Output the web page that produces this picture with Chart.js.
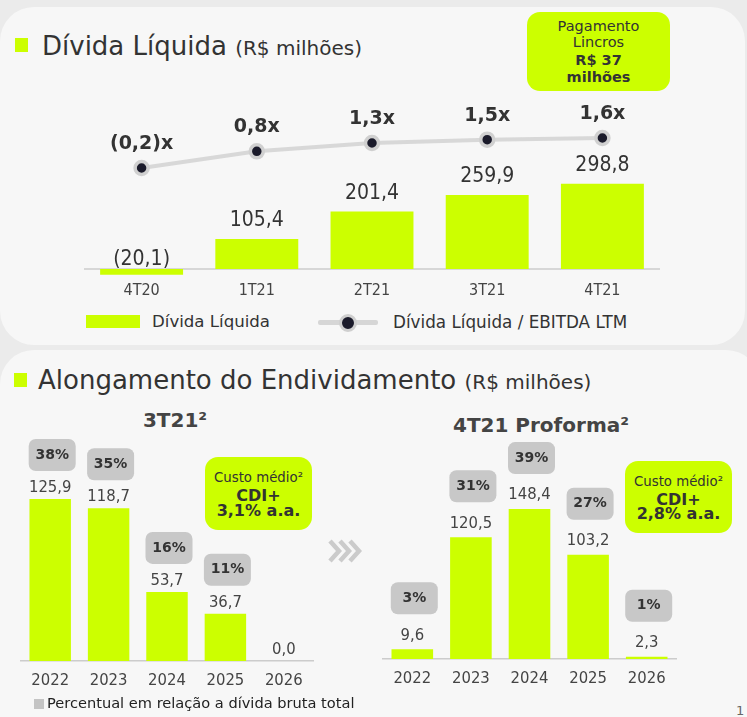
<!DOCTYPE html>
<html>
<head>
<meta charset="utf-8">
<script src="https://cdn.jsdelivr.net/npm/chart.js@4.4.0/dist/chart.umd.min.js"></script>
<style>
  body { margin: 0; width: 747px; height: 717px; background: #ebebeb; overflow: hidden;
         font-family: 'DejaVu Sans', Verdana, sans-serif; color: #333; position: relative; }
  .panel { position: absolute; background: #f7f7f7; border-radius: 34px; }
  .abs { position: absolute; white-space: nowrap; }
  .title { font-size: 26px; line-height: 32px; color: #333; }
  .title span { font-size: 20px; }
  .sq { position: absolute; width: 13px; height: 14px; background: #ccff00; }
  .callout { position: absolute; background: #ccff00; border-radius: 13px; color: #333; text-align: center; }
  .callout div { position: absolute; left: 0; right: 0; }
  .sub { font-size: 20px; font-weight: bold; color: #444; transform: translateX(-50%); }
  canvas { position: absolute; }
</style>
</head>
<body>
<div class="panel" style="left:0; top:7px; width:745px; height:338px;"></div>
<div class="panel" style="left:0; top:350px; width:760px; height:400px;"></div>

<div class="sq" style="left:15px; top:38px;"></div>
<div class="abs title" style="left:42px; top:30px;">Dívida Líquida <span>(R$ milhões)</span></div>

<div class="callout" style="left:527px; top:12px; width:143px; height:79px; font-size:14.5px; line-height:17px;">
  <div style="top:6px;">Pagamento</div>
  <div style="top:22px;">Lincros</div>
  <div style="top:40px; font-weight:bold;">R$ 37</div>
  <div style="top:57px; font-weight:bold;">milhões</div>
</div>

<!-- legenda superior -->
<div class="abs" style="left:86px; top:315px; width:54px; height:13px; background:#ccff00;"></div>
<div class="abs" style="left:152px; top:312px; font-size:16.6px; line-height:20px; color:#333;">Dívida Líquida</div>
<div class="abs" style="left:318px; top:320px; width:60px; height:5px; background:#d6d6d6; border-radius:2px;"></div>
<div class="abs" style="left:339px; top:314px; width:12px; height:12px; border-radius:50%; background:#1b1b2b; border:3px solid #cfcfcf;"></div>
<div class="abs" style="left:393px; top:312px; font-size:16.8px; line-height:20px; color:#333;">Dívida Líquida / EBITDA LTM</div>

<canvas id="topChart" width="747" height="220" style="left:0; top:90px;"></canvas>

<div class="sq" style="left:14px; top:373px;"></div>
<div class="abs title" style="left:38px; top:364px;">Alongamento do Endividamento <span>(R$ milhões)</span></div>

<div class="abs sub" style="left:175px; top:408px;">3T21²</div>
<div class="abs sub" style="left:541px; top:413px;">4T21 Proforma²</div>

<div class="callout" style="left:205px; top:457px; width:107px; height:73px;">
  <div style="top:13px; font-size:13.3px; line-height:16px;">Custo médio²</div>
  <div style="top:30px; font-size:16px; line-height:17px; font-weight:bold;">CDI+</div>
  <div style="top:45px; font-size:16px; line-height:17px; font-weight:bold;">3,1% a.a.</div>
</div>
<div class="callout" style="left:625px; top:461px; width:107px; height:72px;">
  <div style="top:13px; font-size:13.3px; line-height:16px;">Custo médio²</div>
  <div style="top:30px; font-size:16px; line-height:17px; font-weight:bold;">CDI+</div>
  <div style="top:44px; font-size:16px; line-height:17px; font-weight:bold;">2,8% a.a.</div>
</div>

<svg class="abs" style="left:328px; top:539px;" width="36" height="24">
  <g fill="none" stroke="#cbcbcb" stroke-width="4.5">
    <polyline points="2,2 11,12 2,22"/>
    <polyline points="12,2 21,12 12,22"/>
    <polyline points="22,2 31,12 22,22"/>
  </g>
</svg>

<canvas id="chart3T21" width="370" height="271" style="left:0; top:430px;"></canvas>
<canvas id="chart4T21" width="377" height="269" style="left:370px; top:430px;"></canvas>

<div class="abs" style="left:34px; top:699px; width:10px; height:10px; background:#c4c4c4;"></div>
<div class="abs" style="left:47px; top:694px; font-size:14.6px; line-height:18px; color:#222;">Percentual em relação a dívida bruta total</div>
<div class="abs" style="left:736px; top:703px; font-size:13px; color:#666;">1</div>

<script>
const quarters = ['4T20', '1T21', '2T21', '3T21', '4T21'];
const dividaLiquida = [-20.1, 105.4, 201.4, 259.9, 298.8];
const dividaEbitda = [-0.2, 0.8, 1.3, 1.5, 1.6];

const anos = ['2022', '2023', '2024', '2025', '2026'];
const venc3T21 = [125.9, 118.7, 53.7, 36.7, 0.0];
const pct3T21 = [38, 35, 16, 11, null];
const venc4T21 = [9.6, 120.5, 148.4, 103.2, 2.3];
const pct4T21 = [3, 31, 39, 27, 1];

const LIME = '#ccff00';
const FONT = "'DejaVu Sans', Verdana, sans-serif";
// números e eixos num corpo mais estreito
const NUM = "'DejaVu Sans Condensed', 'DejaVu Sans', sans-serif";

function br(v) {
  const s = Math.abs(v).toFixed(1).replace('.', ',');
  return v < 0 ? '(' + s + ')' : s;
}

// rótulos do gráfico de dívida líquida
const topLabels = {
  id: 'topLabels',
  beforeDatasetsDraw(chart) {
    const ctx = chart.ctx;
    const zero = chart.scales.y.getPixelForValue(0);
    ctx.save();
    ctx.strokeStyle = '#cccccc';
    ctx.lineWidth = 1.5;
    ctx.beginPath();
    ctx.moveTo(chart.chartArea.left, zero);
    ctx.lineTo(chart.chartArea.right, zero);
    ctx.stroke();
    ctx.restore();
  },
  afterDatasetsDraw(chart) {
    const ctx = chart.ctx;
    const zero = chart.scales.y.getPixelForValue(0);
    ctx.save();
    ctx.textAlign = 'center';
    ctx.textBaseline = 'middle';
    ctx.fillStyle = '#333';
    ctx.font = '21px ' + NUM;
    chart.getDatasetMeta(0).data.forEach((bar, i) => {
      const v = dividaLiquida[i];
      const y = v < 0 ? zero - 9 : bar.y - 18;
      ctx.fillText(br(v), bar.x, y);
    });
    ctx.font = 'bold 19px ' + FONT;
    chart.getDatasetMeta(1).data.forEach((pt, i) => {
      ctx.fillText(br(dividaEbitda[i]) + 'x', pt.x, pt.y - 24);
    });
    ctx.restore();
  }
};

new Chart(document.getElementById('topChart'), {
  type: 'bar',
  data: {
    labels: quarters,
    datasets: [{
      label: 'Dívida Líquida',
      data: dividaLiquida,
      backgroundColor: LIME,
      barPercentage: 0.72,
      categoryPercentage: 1,
      yAxisID: 'y',
      order: 1
    }, {
      type: 'line',
      label: 'Dívida Líquida / EBITDA LTM',
      data: dividaEbitda,
      borderColor: '#d8d8d8',
      borderWidth: 4,
      pointRadius: 6.5,
      pointBackgroundColor: '#1b1b2b',
      pointBorderColor: '#d0d0d0',
      pointBorderWidth: 3.5,
      yAxisID: 'y2',
      order: 0
    }]
  },
  options: {
    responsive: false,
    animation: false,
    layout: { padding: { left: 84, right: 87, top: 10, bottom: 0 } },
    plugins: { legend: { display: false }, tooltip: { enabled: false } },
    scales: {
      x: {
        grid: { display: false, drawTicks: false },
        border: { display: false },
        ticks: { color: '#444', font: { family: NUM, size: 16 }, padding: 1 },
        afterFit(s) { s.height = 30; }
      },
      y: { display: false, min: -38.6, max: 593 },
      y2: { display: false, min: -6.92, max: 3.88 }
    }
  },
  plugins: [topLabels]
});

// rótulos dos vencimentos
const barNotes = {
  id: 'barNotes',
  afterDatasetsDraw(chart, args, opts) {
    const ctx = chart.ctx;
    const vals = chart.data.datasets[0].data;
    ctx.save();
    ctx.textAlign = 'center';
    ctx.textBaseline = 'middle';
    chart.getDatasetMeta(0).data.forEach((bar, i) => {
      ctx.fillStyle = '#444';
      ctx.font = '16.5px ' + NUM;
      ctx.fillText(br(vals[i]), bar.x, bar.y - opts.labelGap);
      const p = opts.pct[i];
      if (p === null) return;
      const w = 47, h = 32;
      const bx = bar.x + 2 - w / 2;
      const by = bar.y - opts.boxGap - h;
      ctx.fillStyle = '#c8c8c8';
      ctx.beginPath();
      ctx.roundRect(bx, by, w, h, 7);
      ctx.fill();
      ctx.fillStyle = '#333';
      ctx.font = 'bold 14px ' + FONT;
      ctx.fillText(p + '%', bx + w / 2, by + h / 2);
    });
    ctx.restore();
  }
};

function vencChart(id, values, pct, max, pad, labelGap, boxGap) {
  return new Chart(document.getElementById(id), {
    type: 'bar',
    data: {
      labels: anos,
      datasets: [{
        data: values,
        backgroundColor: LIME,
        barPercentage: 0.71,
        categoryPercentage: 1
      }]
    },
    options: {
      responsive: false,
      animation: false,
      layout: { padding: pad },
      plugins: {
        legend: { display: false },
        tooltip: { enabled: false },
        barNotes: { pct: pct, labelGap: labelGap, boxGap: boxGap }
      },
      scales: {
        x: {
          grid: { display: false, drawTicks: false },
          border: { display: true, color: '#cccccc', width: 1.5 },
          ticks: { color: '#444', font: { family: NUM, size: 16.5 }, padding: 10 },
          afterFit(s) { s.height = 40; }
        },
        y: { display: false, min: 0, max: max }
      }
    },
    plugins: [barNotes]
  });
}

vencChart('chart3T21', venc3T21, pct3T21, 171.7, { left: 21, right: 57, top: 10, bottom: 0 }, 11, 28);
vencChart('chart4T21', venc4T21, pct4T21, 216.8, { left: 13, right: 71, top: 10, bottom: 0 }, 14, 35);
</script>
</body>
</html>
